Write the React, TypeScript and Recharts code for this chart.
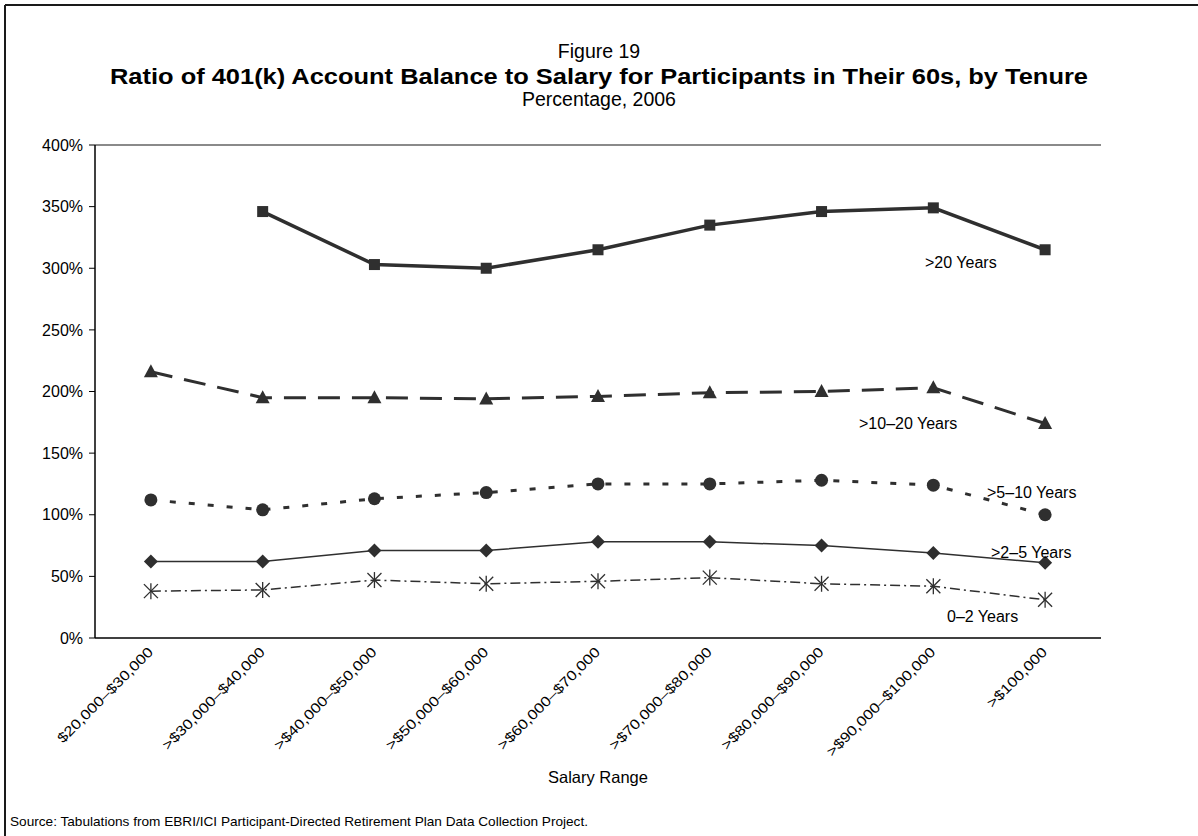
import React from 'react';
import { LineChart, Line, XAxis, YAxis, ReferenceLine } from 'recharts';

const FONT = '"Liberation Sans", Arial, Helvetica, sans-serif';
const INK = '#2f2f2f';
const FRAME = '#8a8a8a';

// salary bands along the x axis
const salaryRanges = [
  '$20,000–$30,000',
  '>$30,000–$40,000',
  '>$40,000–$50,000',
  '>$50,000–$60,000',
  '>$60,000–$70,000',
  '>$70,000–$80,000',
  '>$80,000–$90,000',
  '>$90,000–$100,000',
  '>$100,000',
];

// balance-to-salary ratio, percent, by tenure
const over20Years = [null, 346, 303, 300, 315, 335, 346, 349, 315];
const over10to20Years = [216, 195, 195, 194, 196, 199, 200, 203, 174];
const over5to10Years = [112, 104, 113, 118, 125, 125, 128, 124, 100];
const over2to5Years = [62, 62, 71, 71, 78, 78, 75, 69, 61];
const upTo2Years = [38, 39, 47, 44, 46, 49, 44, 42, 31];

const yTicks = [0, 50, 100, 150, 200, 250, 300, 350, 400];
const bandEdges = [0, 1, 2, 3, 4, 5, 6, 7, 8, 9];

const data = salaryRanges.map((range, i) => ({
  range,
  over20: over20Years[i],
  over10to20: over10to20Years[i],
  over5to10: over5to10Years[i],
  over2to5: over2to5Years[i],
  upTo2: upTo2Years[i],
}));

const empty = (p: any) => <g key={`e-${p.index}`} />;

const squareDot = (p: any) => {
  if (p.cx == null || p.cy == null) return empty(p);
  return <rect key={`sq-${p.index}`} x={p.cx - 5.5} y={p.cy - 5.5} width={11} height={11} fill={INK} />;
};

const triangleDot = (p: any) => {
  if (p.cx == null || p.cy == null) return empty(p);
  const { cx, cy } = p;
  return (
    <polygon key={`tr-${p.index}`} points={`${cx},${cy - 7.5} ${cx + 7},${cy + 5.5} ${cx - 7},${cy + 5.5}`} fill={INK} />
  );
};

const circleDot = (p: any) => {
  if (p.cx == null || p.cy == null) return empty(p);
  return <circle key={`ci-${p.index}`} cx={p.cx} cy={p.cy} r={6.5} fill={INK} />;
};

const diamondDot = (p: any) => {
  if (p.cx == null || p.cy == null) return empty(p);
  const { cx, cy } = p;
  return (
    <polygon key={`di-${p.index}`} points={`${cx},${cy - 7} ${cx + 7},${cy} ${cx},${cy + 7} ${cx - 7},${cy}`} fill={INK} />
  );
};

const asteriskDot = (p: any) => {
  if (p.cx == null || p.cy == null) return empty(p);
  const { cx, cy } = p;
  return (
    <g key={`as-${p.index}`} stroke={INK} strokeWidth={1.3}>
      <line x1={cx - 7} y1={cy - 7} x2={cx + 7} y2={cy + 7} />
      <line x1={cx - 7} y1={cy + 7} x2={cx + 7} y2={cy - 7} />
      <line x1={cx} y1={cy - 8} x2={cx} y2={cy + 8} />
    </g>
  );
};

// rotated salary label, slightly widened along its baseline
const SalaryTick = ({ x, y, payload }: any) => {
  const ax = x + 3;
  const ay = y + 14;
  return (
    <text
      transform={`translate(${ax} ${ay}) rotate(-45) scale(1.18 1)`}
      textAnchor="end"
      fontSize={14}
      fontFamily={FONT}
      fill="#000"
    >
      {payload.value}
    </text>
  );
};

const txt = { fontFamily: FONT, fill: '#000' };

export default function App() {
  return (
    <div style={{ position: 'fixed', left: 0, top: 0, width: 1198, height: 836, background: '#fff', overflow: 'hidden' }}>
      <div style={{ position: 'absolute', left: 0, top: 0 }}>
        <LineChart width={1198} height={836} data={data} margin={{ top: 145, right: 97, left: 35, bottom: 77 }}>
          <XAxis
            xAxisId="bounds"
            type="number"
            domain={[0, 9]}
            ticks={bandEdges}
            allowDataOverflow
            tick={false}
            tickSize={6}
            height={1}
            axisLine={{ stroke: '#000', strokeWidth: 1.5 }}
            tickLine={{ stroke: '#000' }}
          />
          <XAxis
            xAxisId="cat"
            dataKey="range"
            scale="band"
            interval={0}
            height={120}
            axisLine={false}
            tickLine={false}
            tickSize={0}
            tickMargin={0}
            tick={<SalaryTick />}
          />
          <YAxis
            domain={[0, 400]}
            ticks={yTicks}
            interval={0}
            width={60}
            tickSize={6}
            tickMargin={6}
            tickFormatter={(v: number) => `${v}%`}
            tick={{ fontSize: 16, fontFamily: FONT, fill: '#000' }}
            axisLine={{ stroke: '#000', strokeWidth: 1.5 }}
            tickLine={{ stroke: '#000' }}
          />
          <ReferenceLine y={400} xAxisId="cat" stroke={FRAME} strokeWidth={2} />
          <ReferenceLine x={9} xAxisId="bounds" stroke={FRAME} strokeWidth={2} />

          <Line xAxisId="cat" dataKey="upTo2" stroke={INK} strokeWidth={1.5} strokeDasharray="10 4 2 4" dot={asteriskDot} activeDot={false} isAnimationActive={false} />
          <Line xAxisId="cat" dataKey="over2to5" stroke={INK} strokeWidth={1.5} dot={diamondDot} activeDot={false} isAnimationActive={false} />
          <Line xAxisId="cat" dataKey="over5to10" stroke={INK} strokeWidth={3} strokeDasharray="6 13" dot={circleDot} activeDot={false} isAnimationActive={false} />
          <Line xAxisId="cat" dataKey="over10to20" stroke={INK} strokeWidth={3} strokeDasharray="22 12" dot={triangleDot} activeDot={false} isAnimationActive={false} />
          <Line xAxisId="cat" dataKey="over20" stroke={INK} strokeWidth={3.5} dot={squareDot} activeDot={false} isAnimationActive={false} />
        </LineChart>
      </div>
      <svg width={1198} height={836} style={{ position: 'absolute', left: 0, top: 0, pointerEvents: 'none' }}>
        {/* page frame, open at the right and bottom */}
        <line x1={5} y1={5} x2={1198} y2={5} stroke="#1a1a1a" strokeWidth={2} />
        <line x1={5} y1={5} x2={5} y2={836} stroke="#1a1a1a" strokeWidth={2} />

        <text x={599} y={58} textAnchor="middle" fontSize={19.5} {...txt}>Figure 19</text>
        <text x={110} y={84} fontSize={22} fontWeight="bold" textLength={978} lengthAdjust="spacingAndGlyphs" {...txt}>
          Ratio of 401(k) Account Balance to Salary for Participants in Their 60s, by Tenure
        </text>
        <text x={599} y={106} textAnchor="middle" fontSize={19.5} {...txt}>Percentage, 2006</text>

        <text x={925} y={268} fontSize={16} {...txt}>&gt;20 Years</text>
        <text x={859} y={429} fontSize={16} {...txt}>&gt;10–20 Years</text>
        <text x={987} y={498} fontSize={16} {...txt}>&gt;5–10 Years</text>
        <text x={991} y={558} fontSize={16} {...txt}>&gt;2–5 Years</text>
        <text x={947} y={622} fontSize={16} {...txt}>0–2 Years</text>

        <text x={598} y={783} textAnchor="middle" fontSize={16.5} {...txt}>Salary Range</text>
        <text x={10} y={826} fontSize={13} textLength={578} lengthAdjust="spacingAndGlyphs" {...txt}>
          Source: Tabulations from EBRI/ICI Participant-Directed Retirement Plan Data Collection Project.
        </text>
      </svg>
    </div>
  );
}
